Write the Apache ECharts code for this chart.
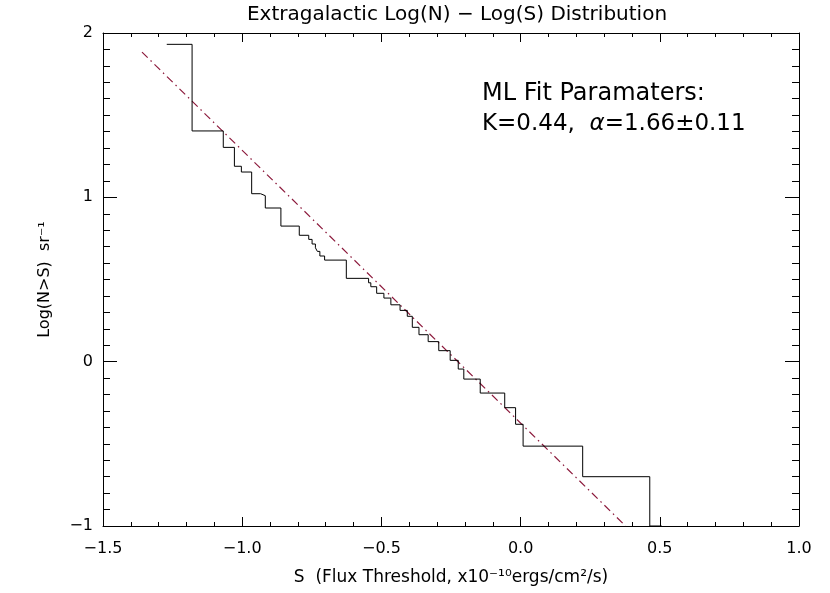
<!DOCTYPE html>
<html>
<head>
<meta charset="utf-8">
<script src="https://cdn.jsdelivr.net/npm/echarts@6/dist/echarts.min.js"></script>
<style>html,body{margin:0;padding:0;background:#fff}#c{width:830px;height:593px}</style>
</head>
<body>
<div id="c"></div>
<script>
// Step-curve thresholds (log S) and cumulative counts (log N>S)
var stepS = [-1.271,-1.180,-1.068,-1.028,-1.003,-0.966,-0.934,-0.917,-0.861,-0.795,-0.761,-0.749,-0.737,-0.730,-0.721,-0.704,-0.626,-0.546,-0.538,-0.517,-0.491,-0.466,-0.433,-0.407,-0.389,-0.365,-0.332,-0.294,-0.253,-0.224,-0.204,-0.145,-0.057,-0.018,0.009,0.223,0.464,0.507];
var stepN = [1.931,1.404,1.304,1.189,1.154,1.022,1.010,0.935,0.825,0.769,0.744,0.716,0.693,0.671,0.643,0.618,0.507,0.480,0.456,0.416,0.387,0.346,0.312,0.276,0.209,0.164,0.122,0.067,0.008,-0.045,-0.106,-0.191,-0.280,-0.381,-0.514,-0.700,-1.000,-1.000];
// ML fit line endpoints
var fitS = [-1.360, 0.377];
var fitN = [1.884, -1.000];
var xTicks = [-1.5,-1.0,-0.5,0.0,0.5,1.0];
var yTicks = [-1,0,1,2];

var FONT = 'DejaVu Sans';
var stepData = stepS.map(function(s,i){return [s, stepN[i]];});
var fitData = fitS.map(function(s,i){return [s, fitN[i]];});

function fmtX(v){var s=v.toFixed(1);return s.replace('-','\u2212');}
function fmtY(v){return String(v).replace('-','\u2212');}

var chart = echarts.init(document.getElementById('c'));
var baseX = {
  type:'value', min:xTicks[0], max:xTicks[xTicks.length-1], interval:0.5,
  axisLine:{show:true,onZero:false,lineStyle:{color:'#000',width:1}},
  axisTick:{show:true,inside:true,length:9,lineStyle:{color:'#000'}},
  minorTick:{show:true,splitNumber:5,length:4,lineStyle:{color:'#000'}},
  splitLine:{show:false}, minorSplitLine:{show:false}
};
var baseY = {
  type:'value', min:yTicks[0], max:yTicks[yTicks.length-1], interval:1,
  axisLine:{show:true,onZero:false,lineStyle:{color:'#000',width:1}},
  axisTick:{show:true,inside:true,length:14,lineStyle:{color:'#000'}},
  minorTick:{show:true,splitNumber:10,length:7,lineStyle:{color:'#000'}},
  splitLine:{show:false}, minorSplitLine:{show:false}
};
chart.setOption({
  animation:false,
  backgroundColor:'#fff',
  title:{text:'Extragalactic Log(N) \u2212 Log(S) Distribution', left:452, top:0, textAlign:'center',
    textStyle:{fontFamily:FONT,fontSize:20,fontWeight:'normal',color:'#000'}},
  grid:{left:103, top:33, right:31, bottom:67},
  xAxis:[
    Object.assign({}, baseX, {position:'bottom',
      axisLabel:{show:true,margin:15,fontFamily:FONT,fontSize:16,color:'#000',formatter:fmtX},
      name:'S  (Flux Threshold, x10\u207B\u00B9\u2070ergs/cm\u00B2/s)', nameLocation:'middle', nameGap:43,
      nameTextStyle:{fontFamily:FONT,fontSize:17,color:'#000'}}),
    Object.assign({}, baseX, {position:'top', axisLabel:{show:false}})
  ],
  yAxis:[
    Object.assign({}, baseY, {position:'left',
      axisLabel:{show:true,margin:10,fontFamily:FONT,fontSize:16,color:'#000',formatter:fmtY},
      name:'Log(N>S)  sr\u207B\u00B9', nameLocation:'middle', nameGap:50, nameRotate:90,
      nameTextStyle:{fontFamily:FONT,fontSize:16,color:'#000'}}),
    Object.assign({}, baseY, {position:'right', axisLabel:{show:false}})
  ],
  graphic:[
    {type:'text', left:482, top:82, style:{text:'ML Fit Paramaters:', font:'24px "DejaVu Sans"', fill:'#000'}},
    {type:'text', left:482, top:113, style:{
      text:'{a|K=0.44,  }{g|\u03B1}{a|=1.66\u00B10.11}',
      rich:{a:{fontFamily:FONT,fontSize:23,fill:'#000'},g:{fontFamily:FONT,fontSize:23,fontStyle:'italic',fill:'#000'}}
    }}
  ],
  series:[
    {type:'line', step:'end', data:stepData, showSymbol:false, symbol:'none',
      lineStyle:{color:'#000',width:1}, xAxisIndex:0, yAxisIndex:0, z:3},
    {type:'line', data:fitData, showSymbol:false, symbol:'none',
      lineStyle:{color:'#8c1a3c',width:1.2,type:[8,4,1.5,4]}, xAxisIndex:0, yAxisIndex:0, z:2}
  ]
});
</script>
</body>
</html>
